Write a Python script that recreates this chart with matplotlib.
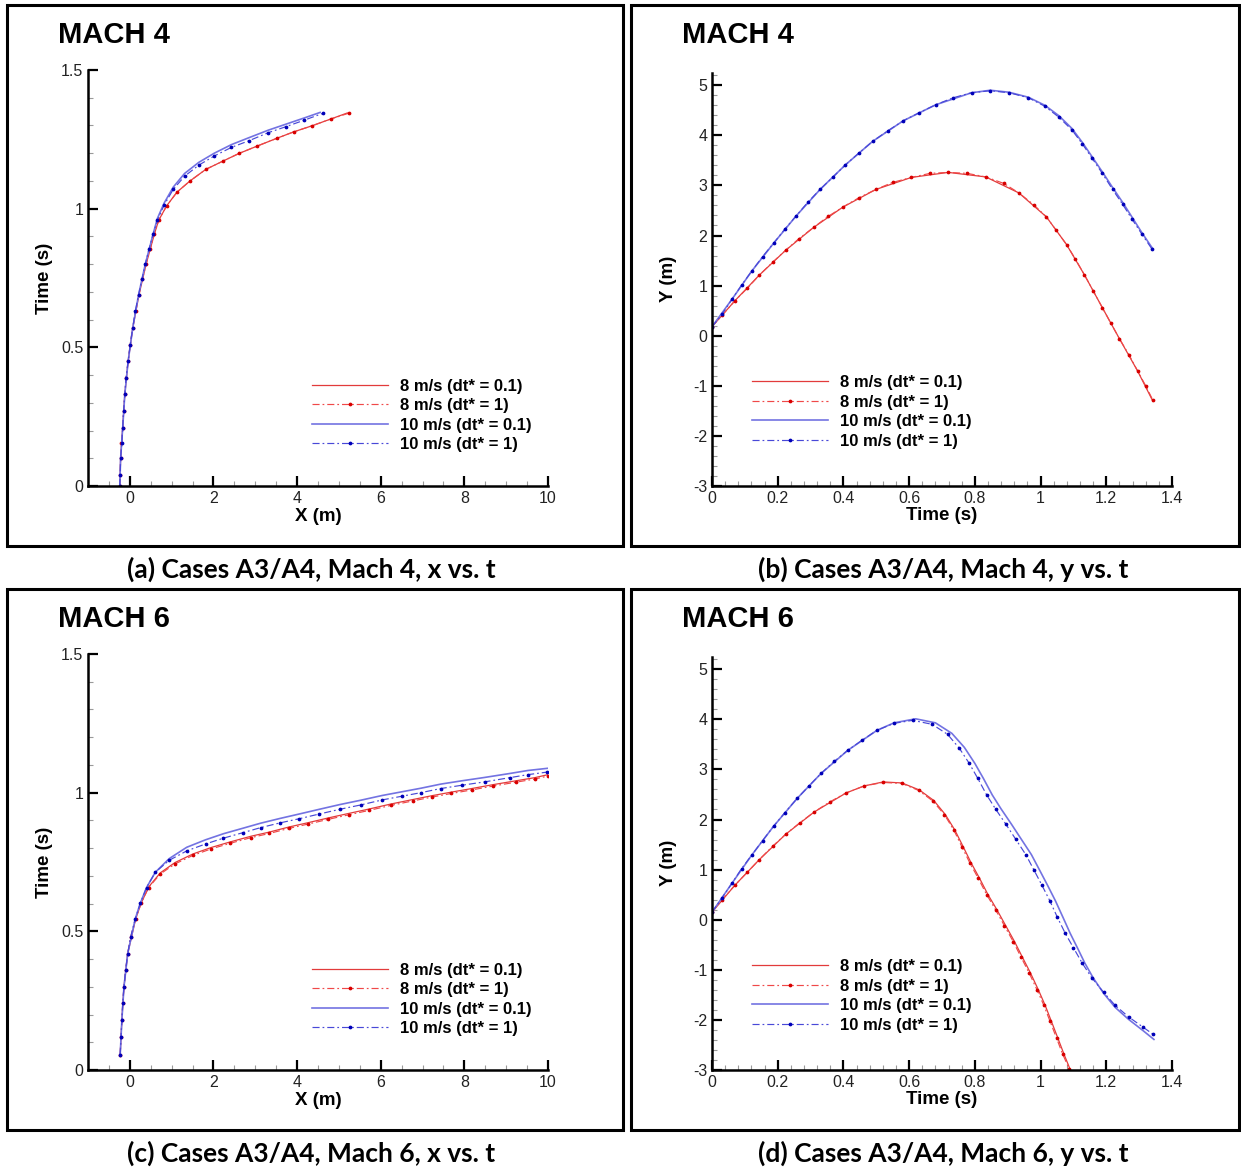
import matplotlib
matplotlib.use("Agg")
import matplotlib.pyplot as plt
from matplotlib.patches import Rectangle
from matplotlib.ticker import MultipleLocator, FuncFormatter

plt.rcParams["font.family"] = ["Liberation Sans", "DejaVu Sans"]
plt.rcParams["axes.unicode_minus"] = False

# ---------------- data ----------------
# (a) Mach 4, x vs t   (x in m, t in s)
A_X_8_DT01 = [-0.24, -0.22, -0.17, -0.12, -0.04, 0.07, 0.22, 0.39, 0.59, 0.69, 0.88, 1.13, 1.44, 1.82, 2.22, 2.61, 3.05, 3.52, 3.92, 4.36, 4.80, 5.20]
A_T_8_DT01 = [0.0, 0.10, 0.21, 0.33, 0.45, 0.57, 0.69, 0.80, 0.91, 0.958, 1.01, 1.06, 1.10, 1.142, 1.171, 1.199, 1.226, 1.254, 1.277, 1.299, 1.323, 1.345]
A_X_8_DT1 = [-0.24, -0.23, -0.22, -0.20, -0.17, -0.15, -0.12, -0.09, -0.04, 0.01, 0.07, 0.14, 0.22, 0.30, 0.39, 0.49, 0.59, 0.69, 0.88, 1.13, 1.44, 1.82, 2.22, 2.61, 3.05, 3.52, 3.92, 4.36, 4.80, 5.23]
A_T_8_DT1 = [0.0, 0.04, 0.10, 0.155, 0.21, 0.27, 0.33, 0.39, 0.45, 0.51, 0.57, 0.63, 0.69, 0.745, 0.80, 0.855, 0.91, 0.958, 1.01, 1.06, 1.10, 1.142, 1.171, 1.199, 1.226, 1.254, 1.277, 1.299, 1.323, 1.344]
A_X_10_DT01 = [-0.24, -0.22, -0.17, -0.12, -0.04, 0.07, 0.21, 0.37, 0.56, 0.66, 0.82, 1.04, 1.31, 1.65, 2.02, 2.43, 2.85, 3.31, 3.74, 4.17, 4.55]
A_T_10_DT01 = [0.0, 0.10, 0.21, 0.33, 0.45, 0.57, 0.69, 0.80, 0.91, 0.965, 1.02, 1.078, 1.127, 1.167, 1.20, 1.231, 1.256, 1.283, 1.305, 1.327, 1.347]
A_X_10_DT1 = [-0.24, -0.23, -0.22, -0.19, -0.17, -0.15, -0.12, -0.09, -0.04, 0.01, 0.07, 0.13, 0.21, 0.29, 0.37, 0.46, 0.56, 0.66, 0.82, 1.04, 1.31, 1.65, 2.02, 2.43, 2.85, 3.31, 3.74, 4.17, 4.62]
A_T_10_DT1 = [0.0, 0.04, 0.10, 0.155, 0.21, 0.27, 0.33, 0.39, 0.45, 0.51, 0.57, 0.63, 0.69, 0.745, 0.80, 0.855, 0.91, 0.958, 1.013, 1.07, 1.117, 1.157, 1.19, 1.221, 1.245, 1.274, 1.296, 1.319, 1.344]

# (b) Mach 4, y vs t
B_T_8_DT01 = [0.0, 0.070, 0.144, 0.225, 0.309, 0.399, 0.499, 0.607, 0.719, 0.833, 0.934, 1.018, 1.079, 1.133, 1.188, 1.240, 1.295, 1.342]
B_Y_8_DT01 = [0.18, 0.70, 1.21, 1.71, 2.16, 2.57, 2.92, 3.16, 3.26, 3.17, 2.85, 2.37, 1.82, 1.22, 0.56, -0.06, -0.70, -1.31]
B_T_8_DT1 = [0.0, 0.031, 0.070, 0.108, 0.144, 0.185, 0.225, 0.265, 0.309, 0.353, 0.399, 0.446, 0.499, 0.550, 0.607, 0.663, 0.719, 0.777, 0.833, 0.888, 0.934, 0.980, 1.018, 1.047, 1.079, 1.106, 1.133, 1.160, 1.188, 1.213, 1.240, 1.269, 1.295, 1.320, 1.342]
B_Y_8_DT1 = [0.18, 0.41, 0.70, 0.95, 1.21, 1.47, 1.71, 1.94, 2.16, 2.38, 2.57, 2.75, 2.92, 3.06, 3.16, 3.24, 3.26, 3.24, 3.17, 3.04, 2.85, 2.61, 2.37, 2.11, 1.82, 1.53, 1.22, 0.90, 0.56, 0.26, -0.06, -0.38, -0.70, -1.00, -1.29]
B_T_10_DT01 = [0.0, 0.061, 0.121, 0.188, 0.256, 0.329, 0.406, 0.489, 0.582, 0.681, 0.790, 0.847, 0.904, 0.963, 1.013, 1.056, 1.095, 1.127, 1.156, 1.188, 1.219, 1.250, 1.279, 1.308, 1.341]
B_Y_10_DT01 = [0.18, 0.73, 1.29, 1.85, 2.39, 2.92, 3.41, 3.88, 4.29, 4.61, 4.85, 4.90, 4.86, 4.76, 4.60, 4.39, 4.14, 3.86, 3.58, 3.27, 2.96, 2.66, 2.36, 2.06, 1.74]
B_T_10_DT1 = [0.0, 0.031, 0.061, 0.090, 0.121, 0.154, 0.188, 0.222, 0.256, 0.291, 0.329, 0.367, 0.406, 0.446, 0.489, 0.535, 0.582, 0.630, 0.681, 0.734, 0.790, 0.847, 0.904, 0.963, 1.013, 1.056, 1.095, 1.127, 1.156, 1.188, 1.219, 1.250, 1.279, 1.308, 1.339]
B_Y_10_DT1 = [0.18, 0.43, 0.73, 1.01, 1.29, 1.58, 1.85, 2.13, 2.39, 2.66, 2.92, 3.16, 3.41, 3.64, 3.88, 4.09, 4.29, 4.45, 4.61, 4.75, 4.85, 4.89, 4.85, 4.75, 4.58, 4.36, 4.11, 3.83, 3.55, 3.24, 2.92, 2.62, 2.32, 2.03, 1.73]

# (c) Mach 6, x vs t
C_X_8_DT01 = [-0.23, -0.19, -0.14, -0.05, 0.14, 0.27, 0.45, 0.73, 1.08, 1.51, 1.94, 2.39, 2.90, 3.34, 3.80, 4.27, 4.75, 5.23, 5.72, 6.24, 6.76, 7.22, 7.69, 8.18, 8.69, 9.24, 9.68, 10.0]
C_T_8_DT01 = [0.055, 0.18, 0.30, 0.42, 0.545, 0.601, 0.660, 0.711, 0.748, 0.779, 0.802, 0.822, 0.843, 0.858, 0.876, 0.892, 0.909, 0.925, 0.941, 0.959, 0.975, 0.989, 1.002, 1.015, 1.029, 1.043, 1.054, 1.065]
C_X_8_DT1 = [-0.23, -0.21, -0.19, -0.17, -0.14, -0.10, -0.05, 0.02, 0.14, 0.27, 0.45, 0.73, 1.08, 1.51, 1.94, 2.39, 2.90, 3.34, 3.80, 4.27, 4.75, 5.23, 5.72, 6.24, 6.76, 7.22, 7.69, 8.18, 8.69, 9.24, 9.68, 10.0]
C_T_8_DT1 = [0.055, 0.12, 0.18, 0.24, 0.30, 0.36, 0.42, 0.48, 0.545, 0.601, 0.658, 0.707, 0.743, 0.774, 0.797, 0.817, 0.838, 0.853, 0.871, 0.887, 0.904, 0.920, 0.936, 0.954, 0.970, 0.984, 0.997, 1.010, 1.024, 1.038, 1.049, 1.060]
C_X_10_DT01 = [-0.23, -0.19, -0.14, -0.05, 0.13, 0.25, 0.40, 0.61, 0.94, 1.36, 1.81, 2.24, 2.71, 3.13, 3.59, 4.05, 4.53, 5.02, 5.53, 6.04, 6.50, 6.96, 7.44, 7.95, 8.49, 9.08, 9.52, 10.0]
C_T_10_DT01 = [0.055, 0.18, 0.30, 0.42, 0.545, 0.601, 0.658, 0.713, 0.762, 0.803, 0.830, 0.852, 0.872, 0.890, 0.907, 0.923, 0.940, 0.957, 0.973, 0.990, 1.003, 1.016, 1.031, 1.043, 1.055, 1.069, 1.080, 1.088]
C_X_10_DT1 = [-0.23, -0.21, -0.19, -0.17, -0.14, -0.10, -0.05, 0.02, 0.13, 0.25, 0.40, 0.61, 0.94, 1.36, 1.81, 2.24, 2.71, 3.13, 3.59, 4.05, 4.53, 5.02, 5.53, 6.04, 6.50, 6.96, 7.44, 7.95, 8.49, 9.08, 9.52, 9.97]
C_T_10_DT1 = [0.055, 0.12, 0.18, 0.24, 0.30, 0.36, 0.42, 0.48, 0.545, 0.601, 0.658, 0.713, 0.756, 0.790, 0.815, 0.836, 0.856, 0.874, 0.891, 0.906, 0.923, 0.940, 0.956, 0.974, 0.987, 1.000, 1.015, 1.027, 1.039, 1.054, 1.065, 1.074]

# (d) Mach 6, y vs t
D_T_8_DT01 = [0.0, 0.070, 0.144, 0.225, 0.311, 0.408, 0.463, 0.521, 0.578, 0.631, 0.675, 0.710, 0.739, 0.765, 0.789, 0.814, 0.840, 0.867, 0.894, 0.921, 0.944, 0.969, 0.994, 1.014, 1.033, 1.053, 1.071, 1.092]
D_Y_8_DT01 = [0.15, 0.69, 1.20, 1.71, 2.15, 2.53, 2.67, 2.75, 2.73, 2.59, 2.38, 2.10, 1.79, 1.45, 1.13, 0.83, 0.50, 0.20, -0.12, -0.44, -0.74, -1.06, -1.41, -1.71, -2.03, -2.37, -2.68, -3.02]
D_T_8_DT1 = [0.0, 0.031, 0.070, 0.108, 0.144, 0.185, 0.225, 0.268, 0.311, 0.358, 0.408, 0.463, 0.521, 0.578, 0.629, 0.672, 0.707, 0.736, 0.761, 0.785, 0.810, 0.836, 0.863, 0.890, 0.917, 0.940, 0.965, 0.990, 1.010, 1.029, 1.049, 1.067, 1.088]
D_Y_8_DT1 = [0.15, 0.40, 0.69, 0.95, 1.20, 1.47, 1.71, 1.94, 2.15, 2.35, 2.53, 2.67, 2.74, 2.72, 2.58, 2.37, 2.10, 1.79, 1.45, 1.13, 0.83, 0.50, 0.20, -0.12, -0.44, -0.74, -1.06, -1.41, -1.71, -2.03, -2.37, -2.68, -2.99]
D_T_10_DT01 = [0.0, 0.061, 0.121, 0.188, 0.259, 0.332, 0.413, 0.502, 0.554, 0.620, 0.680, 0.730, 0.768, 0.800, 0.826, 0.853, 0.880, 0.911, 0.941, 0.972, 0.997, 1.021, 1.045, 1.068, 1.090, 1.112, 1.135, 1.160, 1.192, 1.227, 1.268, 1.313, 1.345]
D_Y_10_DT01 = [0.15, 0.73, 1.29, 1.87, 2.42, 2.92, 3.38, 3.78, 3.93, 4.01, 3.93, 3.72, 3.44, 3.12, 2.82, 2.49, 2.21, 1.91, 1.61, 1.30, 0.99, 0.69, 0.38, 0.05, -0.27, -0.56, -0.87, -1.16, -1.47, -1.75, -1.99, -2.22, -2.39]
D_T_10_DT1 = [0.0, 0.031, 0.061, 0.090, 0.121, 0.154, 0.188, 0.222, 0.259, 0.295, 0.332, 0.372, 0.413, 0.456, 0.502, 0.554, 0.611, 0.670, 0.717, 0.753, 0.783, 0.809, 0.836, 0.863, 0.894, 0.924, 0.955, 0.980, 1.004, 1.028, 1.051, 1.075, 1.100, 1.127, 1.156, 1.192, 1.227, 1.268, 1.313, 1.343]
D_Y_10_DT1 = [0.15, 0.44, 0.73, 1.02, 1.29, 1.58, 1.87, 2.14, 2.42, 2.67, 2.92, 3.16, 3.38, 3.58, 3.78, 3.92, 3.98, 3.90, 3.70, 3.42, 3.12, 2.82, 2.49, 2.21, 1.91, 1.61, 1.30, 0.99, 0.69, 0.38, 0.05, -0.27, -0.56, -0.87, -1.16, -1.45, -1.71, -1.94, -2.15, -2.29]

LEGEND_LABELS = ["8 m/s (dt* = 0.1)", "8 m/s (dt* = 1)", "10 m/s (dt* = 0.1)", "10 m/s (dt* = 1)"]
PANEL_TITLES = ["MACH 4", "MACH 4", "MACH 6", "MACH 6"]
CAPTIONS = ["(a) Cases A3/A4, Mach 4, x vs. t", "(b) Cases A3/A4, Mach 4, y vs. t",
            "(c) Cases A3/A4, Mach 6, x vs. t", "(d) Cases A3/A4, Mach 6, y vs. t"]

# ---------------- figure ----------------
W, H = 1241, 1168
fig = plt.figure(figsize=(W / 100, H / 100), dpi=100)


def fx(px):
    return px / W


def fy(py):
    return 1 - py / H


def add_axes_px(left, right, top, bottom):
    return fig.add_axes([fx(left), fy(bottom), (right - left) / W, (bottom - top) / H])


RED_SOLID = "#e23b3b"
RED_DASH = "#f04848"
RED_MARK = "#d80000"
BLUE_SOLID = "#7373e2"
BLUE_DASH = "#4848d8"
BLUE_MARK = "#0000b8"
DASHDOT = (0, (6, 2.5, 1.5, 2.5))


def draw_series(ax, s8_01, s8_1, s10_01, s10_1):
    h1, = ax.plot(*s8_01, color=RED_SOLID, lw=0.9)
    h2, = ax.plot(*s8_1, color=RED_DASH, lw=0.85, linestyle=DASHDOT,
                  marker="o", markersize=1.7, markerfacecolor=RED_MARK, markeredgecolor=RED_MARK)
    h3, = ax.plot(*s10_01, color=BLUE_SOLID, lw=1.2)
    h4, = ax.plot(*s10_1, color=BLUE_DASH, lw=0.85, linestyle=DASHDOT,
                  marker="o", markersize=1.7, markerfacecolor=BLUE_MARK, markeredgecolor=BLUE_MARK)
    return [h1, h2, h3, h4]


def style_axes(ax, xlim, ylim, xmaj, xmin, ymaj, ymin, xlabel, ylabel):
    ax.set_xlim(*xlim)
    ax.set_ylim(*ylim)
    for s in ("top", "right"):
        ax.spines[s].set_visible(False)
    for s in ("left", "bottom"):
        ax.spines[s].set_linewidth(1.8)
    ax.xaxis.set_major_locator(MultipleLocator(xmaj))
    ax.xaxis.set_minor_locator(MultipleLocator(xmin))
    ax.yaxis.set_major_locator(MultipleLocator(ymaj))
    ax.yaxis.set_minor_locator(MultipleLocator(ymin))
    fmt = FuncFormatter(lambda v, p: "%g" % round(v, 6))
    ax.xaxis.set_major_formatter(fmt)
    ax.yaxis.set_major_formatter(fmt)
    ax.tick_params(which="major", direction="in", length=7, width=1.6, color="black",
                   labelsize=11.5, labelcolor="#222222", pad=3.5)
    ax.tick_params(which="minor", direction="in", length=3.6, width=0.8, color="#9a9a9a")
    ax.set_xlabel(xlabel, fontsize=13.5, fontweight="bold")
    ax.set_ylabel(ylabel, fontsize=13.5, fontweight="bold")
    ax.xaxis.set_label_coords(0.5, -0.052)
    ax.yaxis.set_label_coords(-0.076, 0.5)
    ax.patch.set_alpha(0)


def add_legend(ax, handles, x, y):
    ax.legend(handles, LEGEND_LABELS, loc="upper left", bbox_to_anchor=(x, y),
              frameon=False, borderpad=0, borderaxespad=0, handlelength=4.55,
              handletextpad=0.7, labelspacing=0.27, numpoints=1,
              prop={"weight": "bold", "size": 12})


# panel frames
for (x0, y0, x1, y1) in [(7, 5, 623, 546), (631, 5, 1239, 546), (7, 589, 623, 1130), (631, 589, 1239, 1130)]:
    fig.add_artist(Rectangle((fx(x0), fy(y1)), (x1 - x0) / W, (y1 - y0) / H,
                             transform=fig.transFigure, fill=False, lw=2.2, ec="black"))

# (a)
ax_a = add_axes_px(88, 548, 70, 486)
hs = draw_series(ax_a, (A_X_8_DT01, A_T_8_DT01), (A_X_8_DT1, A_T_8_DT1),
                 (A_X_10_DT01, A_T_10_DT01), (A_X_10_DT1, A_T_10_DT1))
style_axes(ax_a, (-1, 10), (0, 1.5), 2, 0.5, 0.5, 0.1, "X (m)", "Time (s)")
add_legend(ax_a, hs, 0.487, 0.258)

# (b)
ax_b = add_axes_px(712, 1172, 72.7, 486)
hs = draw_series(ax_b, (B_T_8_DT01, B_Y_8_DT01), (B_T_8_DT1, B_Y_8_DT1),
                 (B_T_10_DT01, B_Y_10_DT01), (B_T_10_DT1, B_Y_10_DT1))
style_axes(ax_b, (0, 1.4), (-3, 5.25), 0.2, 0.04, 1, 0.2, "Time (s)", "Y (m)")
add_legend(ax_b, hs, 0.087, 0.268)

# (c)
ax_c = add_axes_px(88, 548, 654, 1070)
hs = draw_series(ax_c, (C_X_8_DT01, C_T_8_DT01), (C_X_8_DT1, C_T_8_DT1),
                 (C_X_10_DT01, C_T_10_DT01), (C_X_10_DT1, C_T_10_DT1))
style_axes(ax_c, (-1, 10), (0, 1.5), 2, 0.5, 0.5, 0.1, "X (m)", "Time (s)")
add_legend(ax_c, hs, 0.487, 0.258)

# (d)
ax_d = add_axes_px(712, 1172, 656.7, 1070)
hs = draw_series(ax_d, (D_T_8_DT01, D_Y_8_DT01), (D_T_8_DT1, D_Y_8_DT1),
                 (D_T_10_DT01, D_Y_10_DT01), (D_T_10_DT1, D_Y_10_DT1))
style_axes(ax_d, (0, 1.4), (-3, 5.25), 0.2, 0.04, 1, 0.2, "Time (s)", "Y (m)")
add_legend(ax_d, hs, 0.087, 0.268)

# panel titles and captions
for (x, y), t in zip([(58, 35), (682, 35), (58, 619), (682, 619)], PANEL_TITLES):
    fig.text(fx(x), fy(y), t, fontsize=21, fontweight="bold", ha="left", va="center")
for (x, y), t in zip([(311, 569), (943, 569), (311, 1153), (943, 1153)], CAPTIONS):
    fig.text(fx(x), fy(y), t, fontsize=19, fontweight="bold", ha="center", va="center",
             family=["Lato", "DejaVu Sans"])

fig.savefig("out.png", dpi=100)
